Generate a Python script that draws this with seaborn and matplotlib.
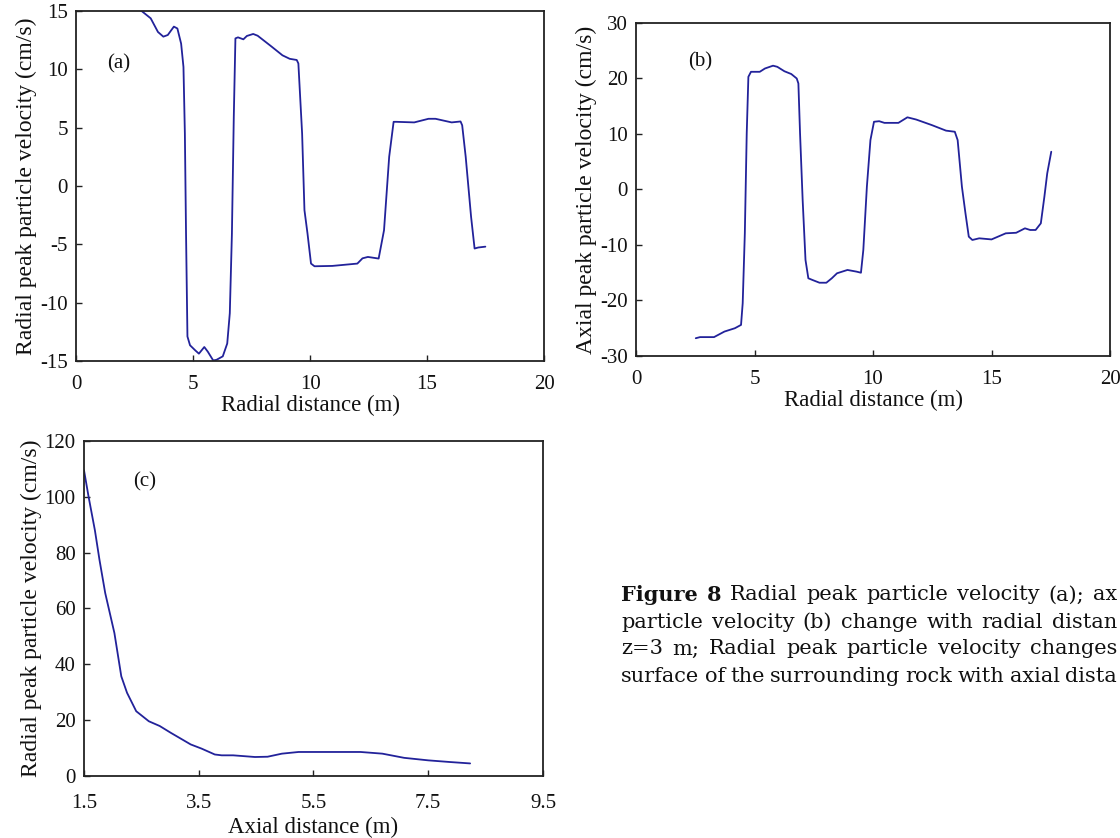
import matplotlib
matplotlib.use("Agg")
import matplotlib.pyplot as plt
import seaborn as sns
import numpy as np
import pandas as pd

# ---- data ----
a_x = [2.5, 2.8, 3.19, 3.5, 3.73, 3.92, 4.18, 4.33, 4.49, 4.59, 4.65, 4.70, 4.76, 4.87,
       5.1, 5.25, 5.48, 5.63, 5.86, 6.0, 6.27, 6.46, 6.57, 6.66, 6.74, 6.81, 6.92, 7.15,
       7.3, 7.57, 7.76, 8.36, 8.82, 9.13, 9.43, 9.5, 9.66, 9.76, 9.89, 10.04, 10.19, 10.95,
       12.02, 12.24, 12.47, 12.93, 13.16, 13.38, 13.57, 13.69, 14.45, 15.06, 15.36, 16.05,
       16.43, 16.5, 16.65, 16.88, 17.03, 17.19, 17.49]
a_y = [15.3, 15.0, 14.37, 13.2, 12.8, 12.94, 13.66, 13.5, 12.2, 10.2, 4.5, -4.1, -12.9, -13.65,
       -14.1, -14.37, -13.8, -14.2, -14.95, -14.9, -14.6, -13.5, -10.9, -4.1, 5.9, 12.65, 12.74, 12.57,
       12.86, 13.03, 12.88, 11.94, 11.2, 10.9, 10.8, 10.5, 4.5, -2.07, -4.07, -6.65, -6.88, -6.85,
       -6.65, -6.2, -6.08, -6.22, -3.79, 2.5, 5.5, 5.5, 5.45, 5.76, 5.76, 5.45,
       5.53, 5.2, 2.5, -2.64, -5.36, -5.27, -5.2]

b_x = [2.52, 2.7, 3.29, 3.73, 4.17, 4.43, 4.5, 4.59, 4.67, 4.74, 4.85, 5.22, 5.44, 5.78, 5.96,
       6.26, 6.55, 6.78, 6.85, 6.92, 7.03, 7.15, 7.27, 7.44, 7.74, 8.03, 8.26, 8.48, 8.92, 9.3,
       9.49, 9.59, 9.74, 9.89, 10.04, 10.26, 10.48, 11.07, 11.45, 11.82, 12.48, 13.08, 13.45,
       13.57, 13.75, 13.9, 14.04, 14.19, 14.48, 15.0, 15.6, 16.04, 16.41, 16.63, 16.86, 17.08,
       17.23, 17.35, 17.52]
b_y = [-26.8, -26.6, -26.6, -25.6, -25.0, -24.4, -20.5, -7.9, 10.1, 20.3, 21.2, 21.2, 21.8, 22.3, 22.1,
       21.3, 20.8, 20.0, 19.1, 10.1, -1.9, -12.7, -16.0, -16.3, -16.8, -16.8, -16.0, -15.1, -14.5, -14.8,
       -15.0, -10.9, 0.5, 8.9, 12.2, 12.3, 12.0, 12.0, 13.0, 12.6, 11.6, 10.6, 10.4,
       8.9, 0.5, -4.3, -8.5, -9.1, -8.8, -9.0, -7.9, -7.8, -7.0, -7.3, -7.3, -6.1,
       -1.3, 2.9, 6.8]

c_x = [1.5, 1.58, 1.69, 1.77, 1.87, 2.03, 2.15, 2.25, 2.41, 2.63, 2.82, 3.01, 3.36, 3.55, 3.78,
       3.9, 4.1, 4.48, 4.7, 4.95, 5.24, 5.75, 6.32, 6.7, 7.08, 7.5, 7.88, 8.23]
c_y = [109.5, 100, 88, 77.4, 65.5, 51.2, 35.7, 29.8, 23.2, 19.6, 17.9, 15.5, 11.3, 9.8, 7.7,
       7.4, 7.4, 6.8, 6.9, 8.0, 8.6, 8.6, 8.6, 8.0, 6.5, 5.6, 5.0, 4.5]

a_xticks = [0, 5, 10, 15, 20]
a_yticks = [-15, -10, -5, 0, 5, 10, 15]
b_xticks = [0, 5, 10, 15, 20]
b_yticks = [-30, -20, -10, 0, 10, 20, 30]
c_xticks = [1.5, 3.5, 5.5, 7.5, 9.5]
c_yticks = [0, 20, 40, 60, 80, 100, 120]

# caption as visible in the reference (the column is cut at the right edge)
caption_bold = "Figure 8"
caption_lines = [
    "Figure 8 Radial peak particle velocity (a); ax",
    "particle velocity (b) change with radial distan",
    "z=3 m; Radial peak particle velocity changes",
    "surface of the surrounding rock with axial dista",
]

# ---- style ----
sns.set_style("ticks")
plt.rcParams["font.family"] = ["Liberation Serif", "DejaVu Serif"]
plt.rcParams["xtick.direction"] = "in"
plt.rcParams["ytick.direction"] = "in"
plt.rcParams["axes.unicode_minus"] = False

LINE = "#22229a"
FS = 15

fig = plt.figure(figsize=(11.2, 8.38), dpi=100)

def style_ax(ax, xlim, ylim, xticks, yticks, xlabel, ylabel, xfmt=None, xpad=10, xlpad=1):
    ax.set_xlim(*xlim)
    ax.set_ylim(*ylim)
    ax.set_xticks(xticks)
    ax.set_yticks(yticks)
    if xfmt:
        ax.set_xticklabels([xfmt.format(t) for t in xticks])
    ax.tick_params(axis="x", pad=xpad)
    ax.tick_params(axis="y", pad=6)
    ax.tick_params(axis="both", which="major", labelsize=FS, length=4, width=1,
                   color="#222222", labelcolor="#111111", top=False, right=False)
    for s in ax.spines.values():
        s.set_visible(True)
        s.set_linewidth(1.3)
        s.set_color("#222222")
    ax.set_xlabel(xlabel, fontsize=16.5, labelpad=xlpad, color="#111111")
    ax.set_ylabel(ylabel, fontsize=17, labelpad=2, color="#111111")

ax_a = fig.add_axes([0.0679, 0.5692, 0.4179, 0.4177])
sns.lineplot(x=a_x, y=a_y, ax=ax_a, color=LINE, lw=1.3, sort=False, estimator=None)
style_ax(ax_a, (0, 20), (-15, 15), a_xticks, a_yticks,
         "Radial distance (m)", "Radial peak particle velocity (cm/s)")
ax_a.text(1.83, 10.5, "(a)", fontsize=FS, ha="center", va="center", color="#111111")

ax_b = fig.add_axes([0.5679, 0.5752, 0.4232, 0.3974])
sns.lineplot(x=b_x, y=b_y, ax=ax_b, color=LINE, lw=1.3, sort=False, estimator=None)
style_ax(ax_b, (0, 20), (-30, 30), b_xticks, b_yticks,
         "Radial distance (m)", "Axial peak particle velocity (cm/s)")
ax_b.text(2.7, 23, "(b)", fontsize=FS, ha="center", va="center", color="#111111")

ax_c = fig.add_axes([0.075, 0.0740, 0.4098, 0.3998])
sns.lineplot(x=c_x, y=c_y, ax=ax_c, color=LINE, lw=1.3, sort=False, estimator=None)
style_ax(ax_c, (1.5, 9.5), (0, 120), c_xticks, c_yticks,
         "Axial distance (m)", "Radial peak particle velocity (cm/s)", xfmt="{:.1f}",
         xpad=13, xlpad=3)
ax_c.text(2.56, 105.3, "(c)", fontsize=FS, ha="center", va="center", color="#111111")

# caption: justified lines between x=621 and x=1118 px
cap_fs = 15
W = fig.bbox.width
H = fig.bbox.height
x_left = 621
x_right = 1117
line_y = [595, 622, 649, 676]
renderer = fig.canvas.get_renderer()
n_bold = len(caption_bold.split())
for i, line in enumerate(caption_lines):
    toks = line.split()
    ys = 1 - line_y[i] / H
    texts = []
    for k, w in enumerate(toks):
        wt = "bold" if (i == 0 and k < n_bold) else "normal"
        t = fig.text(0, ys, w, fontsize=cap_fs, fontweight=wt, family="DejaVu Serif",
                     va="center", ha="left", color="#111111")
        texts.append(t)
    widths = [t.get_window_extent(renderer).width for t in texts]
    gap = (x_right - x_left - sum(widths)) / (len(toks) - 1)
    x = x_left
    for t, wd in zip(texts, widths):
        t.set_x(x / W)
        x += wd + gap

fig.savefig("out.png", dpi=100)
